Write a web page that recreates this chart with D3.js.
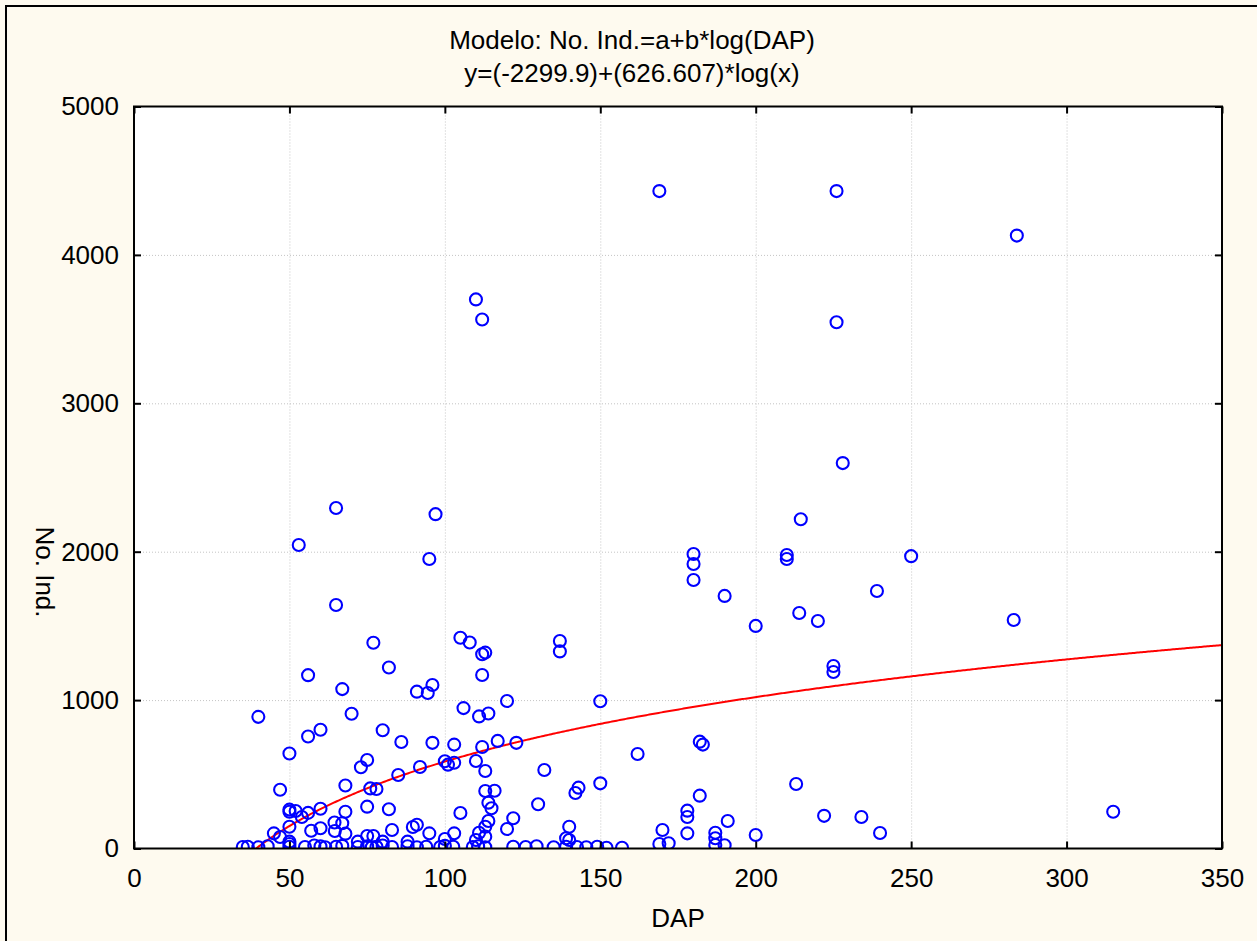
<!DOCTYPE html>
<html>
<head>
<meta charset="utf-8">
<script src="https://cdn.jsdelivr.net/npm/d3@7"></script>
<style>
  body { margin: 0; background: #fefaef; }
  text { font-family: "Liberation Sans", Arial, sans-serif; fill: #000; }
</style>
</head>
<body>
<svg id="canvas"></svg>
<script>
// Data: DAP (x) and No. Ind. (y)
const dap = [
  169, 226, 284, 110, 112, 226, 228, 65, 97, 214.5, 53, 95, 180, 180, 180, 210, 210, 250,
  190, 239, 65, 200, 214, 220, 283, 137, 137, 105, 108, 77, 112, 113, 82, 56, 112, 225, 225,
  67, 96, 91, 94.5, 120, 150, 40, 70, 106, 111, 114, 80, 60, 56, 86, 96, 103, 112, 117, 123,
  162, 182, 183, 50, 73, 75, 92, 100, 101, 103, 110, 85, 113, 132, 47, 68, 76, 78, 113, 116,
  150, 142, 143, 213, 182, 75, 82, 68, 50, 50, 52, 54, 56, 60, 105, 114, 115, 130, 178, 178,
  191, 222, 234, 315, 240,
  45, 47, 50, 57, 60, 64.5, 67, 64.6, 68, 83, 89.7, 91, 95, 103, 100, 75, 77, 80, 72, 88, 50, 50,
  114, 113, 111, 122, 120, 140, 139, 140, 110, 113,
  170, 178, 187, 187, 200, 169, 172, 187, 190, 152, 157,
  35, 36.6, 40, 43, 50, 55, 58, 60, 61.5, 65, 67, 72, 75, 76.5, 78, 80, 83, 88, 91, 94,
  98.5, 100, 102.7, 109, 110.7, 113, 122, 126, 129.5, 135, 139, 142.5, 145.5, 149
];
const noInd = [
  4430, 4430, 4130, 3700, 3565, 3546, 2597, 2294, 2253, 2219, 2045, 1951, 1985, 1917, 1809, 1978, 1951, 1970,
  1702, 1735, 1641, 1500, 1587, 1533, 1540, 1398, 1328, 1420, 1388, 1386, 1309, 1320, 1220, 1168, 1169, 1230, 1189,
  1074, 1102, 1057, 1048, 994, 992, 887, 908, 946, 890, 910, 797, 800, 755, 718, 712, 700, 684, 725, 712,
  637, 720, 700, 640, 548, 596, 549, 588, 565, 578, 590, 495, 522, 529, 396, 425, 405, 401, 387, 389,
  439, 374, 410, 435, 356, 282, 264, 248, 262, 248, 253, 212, 240, 268, 239, 309, 271, 298, 255, 212,
  185, 220, 212, 248, 104,
  102, 77, 147, 120, 136, 175, 170, 118, 100, 125, 145, 160, 102, 102, 64, 84, 84, 46, 46, 46, 30, 46,
  185, 147, 106, 204, 131, 147, 69, 57, 57, 80,
  125, 102, 106, 69, 91, 30, 35, 24, 22, 5, 5,
  10, 12, 8, 15, 12, 10, 20, 14, 8, 12, 18, 10, 15, 8, 12, 20, 10, 15, 8, 12,
  10, 18, 12, 10, 15, 8, 12, 10, 15, 8, 12, 10, 8, 12
];
const xTicks = [0, 50, 100, 150, 200, 250, 300, 350];
const yTicks = [0, 1000, 2000, 3000, 4000, 5000];
const titleLines = ["Modelo: No. Ind.=a+b*log(DAP)", "y=(-2299.9)+(626.607)*log(x)"];
// fitted model parameters (from the title)
const fitA = -2299.9;
const fitB = 626.607;

const width = 1257, height = 941;
const pLeft = 134, pRight = 1222, pTop = 106.5, pBottom = 848.5;

const svg = d3.select("#canvas").attr("width", width).attr("height", height);

// cream background with the page border (runs off the right and bottom)
svg.append("rect").attr("width", width).attr("height", height).attr("fill", "#fefaef");
svg.append("path")
   .attr("d", `M6,${height} L6,6 L${width},6`)
   .attr("fill", "none").attr("stroke", "#000").attr("stroke-width", 2);

const x = d3.scaleLinear().domain([0, 350]).range([pLeft, pRight]);
const y = d3.scaleLinear().domain([0, 5000]).range([pBottom, pTop]);

// plot area
svg.append("rect")
   .attr("x", pLeft).attr("y", pTop)
   .attr("width", pRight - pLeft).attr("height", pBottom - pTop)
   .attr("fill", "#fff");

svg.append("clipPath").attr("id", "plotClip")
   .append("rect")
   .attr("x", pLeft).attr("y", pTop)
   .attr("width", pRight - pLeft).attr("height", pBottom - pTop);

// dotted grid
const grid = svg.append("g").attr("stroke", "#c4c4c4").attr("stroke-width", 1).attr("stroke-dasharray", "1,2");
grid.selectAll("line.vx").data(xTicks.slice(1, -1)).enter().append("line")
    .attr("x1", d => x(d) + 0.5).attr("x2", d => x(d) + 0.5)
    .attr("y1", pTop).attr("y2", pBottom);
grid.selectAll("line.hy").data(yTicks.slice(1, -1)).enter().append("line")
    .attr("x1", pLeft).attr("x2", pRight)
    .attr("y1", d => y(d) + 0.5).attr("y2", d => y(d) + 0.5);

// fitted curve
const curveX = d3.range(Math.exp(-fitA / fitB), 350.5, 0.5);
const line = d3.line().x(d => x(d)).y(d => y(fitA + fitB * Math.log(d)));
svg.append("path")
   .datum(curveX)
   .attr("clip-path", "url(#plotClip)")
   .attr("d", line)
   .attr("fill", "none").attr("stroke", "#ff0000").attr("stroke-width", 2);

// points
svg.append("g").attr("clip-path", "url(#plotClip)")
   .selectAll("circle").data(dap).enter().append("circle")
   .attr("cx", d => x(d))
   .attr("cy", (d, i) => y(noInd[i]))
   .attr("r", 6)
   .attr("fill", "none").attr("stroke", "#0000ff").attr("stroke-width", 2.1);

// axes with inward ticks
const fs = "26px";
const gx = svg.append("g").attr("transform", `translate(0,${pBottom})`)
   .call(d3.axisBottom(x).tickValues(xTicks).tickSizeInner(-7).tickSizeOuter(0).tickPadding(20));
const gxt = svg.append("g").attr("transform", `translate(0,${pTop})`)
   .call(d3.axisTop(x).tickValues(xTicks).tickSizeInner(-7).tickSizeOuter(0).tickFormat(""));
const gy = svg.append("g").attr("transform", `translate(${pLeft},0)`)
   .call(d3.axisLeft(y).tickValues(yTicks).tickFormat(d3.format("d")).tickSizeInner(-7).tickSizeOuter(0).tickPadding(15));
const gyr = svg.append("g").attr("transform", `translate(${pRight},0)`)
   .call(d3.axisRight(y).tickValues(yTicks).tickSizeInner(-7).tickSizeOuter(0).tickFormat(""));
[gx, gxt, gy, gyr].forEach(g => {
  g.select(".domain").remove();
  g.selectAll(".tick line").attr("stroke", "#000").attr("stroke-width", 2);
  g.selectAll("text").style("font-size", fs).attr("font-family", "Liberation Sans, Arial, sans-serif");
});

// frame
svg.append("rect")
   .attr("x", pLeft).attr("y", pTop)
   .attr("width", pRight - pLeft).attr("height", pBottom - pTop)
   .attr("fill", "none").attr("stroke", "#000").attr("stroke-width", 2);

// titles (centred on the page rather than on the plot)
svg.selectAll("text.title").data(titleLines).enter().append("text")
   .attr("class", "title")
   .attr("x", 632)
   .attr("y", (d, i) => 49 + i * 33)
   .attr("text-anchor", "middle")
   .style("font-size", fs)
   .text(d => d);

svg.append("text")
   .attr("x", (pLeft + pRight) / 2).attr("y", 927)
   .attr("text-anchor", "middle")
   .style("font-size", fs)
   .text("DAP");

svg.append("text")
   .attr("transform", "translate(36,572) rotate(90)")
   .attr("text-anchor", "middle")
   .style("font-size", fs)
   .text("No. Ind.");
</script>
</body>
</html>
